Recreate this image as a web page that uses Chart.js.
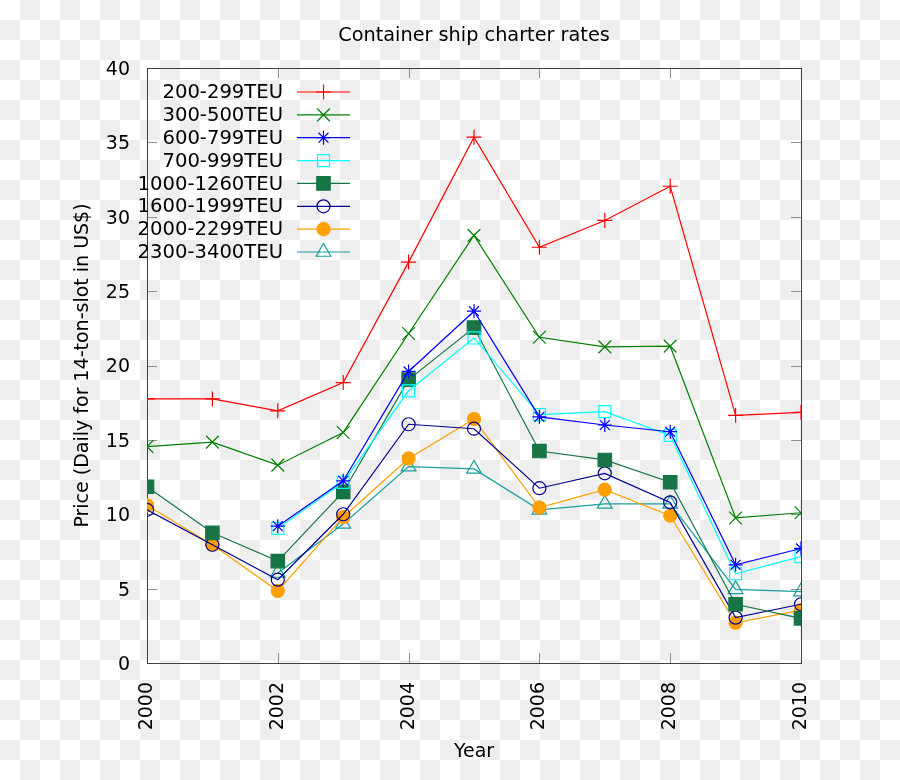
<!DOCTYPE html>
<html>
<head>
<meta charset="utf-8">
<script src="https://cdn.jsdelivr.net/npm/chart.js@4/dist/chart.umd.min.js"></script>
<style>
  body {
    margin: 0;
    background: repeating-conic-gradient(#eeeeee 0 25%, #ffffff 0 50%) 0 0 / 40px 40px;
  }
  #wrap { width: 900px; height: 780px; }
</style>
</head>
<body>
<div id="wrap"><canvas id="rates" width="900" height="780"></canvas></div>
<script>
const years = [2000, 2001, 2002, 2003, 2004, 2005, 2006, 2007, 2008, 2009, 2010];

const teu200 = [17.75, 17.75, 16.95, 18.85, 26.95, 35.35, 27.95, 29.75, 32.05, 16.65, 16.85];
const teu300 = [14.55, 14.85, 13.3, 15.5, 22.15, 28.75, 21.9, 21.25, 21.3, 9.75, 10.1];
const teu600 = [null, null, 9.2, 12.25, 19.6, 23.65, 16.55, 16.0, 15.55, 6.6, 7.7];
const teu700 = [null, null, 9.05, 12.15, 18.3, 21.85, 16.7, 16.9, 15.3, 6.0, 7.15];
const teu1000 = [11.85, 8.75, 6.85, 11.5, 19.05, 22.55, 14.25, 13.65, 12.15, 3.95, 3.0];
const teu1600 = [10.3, 7.95, 5.6, 10.0, 16.05, 15.75, 11.75, 12.75, 10.8, 3.05, 3.95];
const teu2000 = [10.6, 7.95, 4.85, 9.8, 13.75, 16.4, 10.45, 11.65, 9.9, 2.7, 3.55];
const teu2300 = [null, null, 6.05, 9.35, 13.2, 13.05, 10.3, 10.7, 10.7, 4.95, 4.8];

const seriesNames = ['200-299TEU', '300-500TEU', '600-799TEU', '700-999TEU',
                     '1000-1260TEU', '1600-1999TEU', '2000-2299TEU', '2300-3400TEU'];
const chartTitle = 'Container ship charter rates';

function pts(vals) {
    return years.map((yr, i) => ({ x: yr, y: vals[i] }));
}

function series(i, vals, color, style, radius, filled) {
    return {
        label: seriesNames[i],
        data: pts(vals),
        borderColor: color,
        backgroundColor: filled ? color : 'rgba(0,0,0,0)',
        borderWidth: 1.2,
        pointStyle: style,
        pointRadius: radius,
        pointHoverRadius: radius,
        pointBorderWidth: 1.2,
        pointBorderColor: color,
        pointBackgroundColor: filled ? color : 'rgba(0,0,0,0)',
        tension: 0,
        spanGaps: false
    };
}

// box round the plot and inward ticks on all four sides
const frame = {
    id: 'frame',
    beforeDatasetsDraw(chart) {
        const { ctx, chartArea: a, scales } = chart;
        ctx.save();
        ctx.strokeStyle = '#909090';
        ctx.lineWidth = 1;
        ctx.beginPath();
        scales.y.ticks.forEach(t => {
            const py = Math.round(scales.y.getPixelForValue(t.value)) + 0.5;
            ctx.moveTo(a.left, py); ctx.lineTo(a.left + 10, py);
            ctx.moveTo(a.right, py); ctx.lineTo(a.right - 10, py);
        });
        scales.x.ticks.forEach(t => {
            const px = Math.round(scales.x.getPixelForValue(t.value)) + 0.5;
            ctx.moveTo(px, a.bottom); ctx.lineTo(px, a.bottom - 10);
            ctx.moveTo(px, a.top); ctx.lineTo(px, a.top + 10);
        });
        ctx.stroke();
        ctx.strokeStyle = '#404040';
        ctx.strokeRect(Math.round(a.left) + 0.5, Math.round(a.top) + 0.5,
                       Math.round(a.right - a.left), Math.round(a.bottom - a.top));
        ctx.restore();
    }
};

// title centred over the plot, and a gnuplot style key:
// label right aligned, then a line sample with its marker
const key = {
    id: 'key',
    afterDraw(chart) {
        const { ctx, chartArea: a } = chart;
        ctx.save();
        ctx.font = '19.3px "DejaVu Sans"';
        ctx.fillStyle = '#000';
        ctx.textAlign = 'center';
        ctx.textBaseline = 'middle';
        ctx.fillText(chartTitle, (a.left + a.right) / 2, 35.5);

        const textRight = 283, x0 = 297, x1 = 350, top = 93, step = 22.86;
        ctx.font = '19.6px "DejaVu Sans"';
        ctx.textAlign = 'right';
        chart.data.datasets.forEach((ds, i) => {
            const y = top + i * step;
            ctx.fillStyle = '#000';
            ctx.fillText(ds.label, textRight, y);
            ctx.strokeStyle = ds.borderColor;
            ctx.lineWidth = ds.borderWidth;
            ctx.beginPath();
            ctx.moveTo(x0, y - 1); ctx.lineTo(x1, y - 1);
            ctx.stroke();
            ctx.fillStyle = ds.pointBackgroundColor;
            ctx.lineWidth = ds.pointBorderWidth;
            Chart.helpers.drawPoint(ctx, {
                pointStyle: ds.pointStyle,
                radius: ds.pointRadius,
                rotation: 0,
                borderWidth: ds.pointBorderWidth
            }, (x0 + x1) / 2, y - 1);
        });
        ctx.restore();
    }
};

Chart.defaults.font.family = '"DejaVu Sans"';
Chart.defaults.color = '#000';

new Chart(document.getElementById('rates').getContext('2d'), {
    type: 'line',
    data: {
        datasets: [
            series(0, teu200, '#ff0000', 'cross', 7.5, false),
            series(1, teu300, '#008000', 'crossRot', 9, false),
            series(2, teu600, '#0000ff', 'star', 7, false),
            series(3, teu700, '#00ffff', 'rect', 8.5, false),
            series(4, teu1000, '#177545', 'rect', 9.5, true),
            series(5, teu1600, '#00008b', 'circle', 6.5, false),
            series(6, teu2000, '#ffa000', 'circle', 6.5, true),
            series(7, teu2300, '#1a9e9e', 'triangle', 8.5, false)
        ]
    },
    options: {
        responsive: false,
        animation: false,
        layout: { padding: { left: 0, right: 99, top: 68, bottom: 0 } },
        plugins: {
            legend: { display: false },
            tooltip: { enabled: false },
            title: { display: false }
        },
        scales: {
            x: {
                type: 'linear',
                min: 2000,
                max: 2010,
                afterFit(scale) { scale.height = 117; },
                grid: { display: false, drawTicks: false },
                border: { display: false },
                ticks: {
                    stepSize: 2,
                    minRotation: 90,
                    maxRotation: 90,
                    padding: 19,
                    font: { size: 19 },
                    callback: v => String(v)
                },
                title: {
                    display: true,
                    text: 'Year',
                    font: { size: 19 },
                    padding: { top: 0, bottom: 16.6 }
                }
            },
            y: {
                min: 0,
                max: 40,
                afterFit(scale) { scale.width = 147; },
                grid: { display: false, drawTicks: false },
                border: { display: false },
                ticks: {
                    stepSize: 5,
                    padding: 17,
                    labelOffset: 2,
                    font: { size: 19 },
                    callback: v => String(v)
                },
                title: {
                    display: true,
                    text: 'Price (Daily for 14-ton-slot in US$)',
                    font: { size: 19 },
                    padding: { top: 71.6, bottom: 0 }
                }
            }
        }
    },
    plugins: [frame, key]
});
</script>
</body>
</html>
